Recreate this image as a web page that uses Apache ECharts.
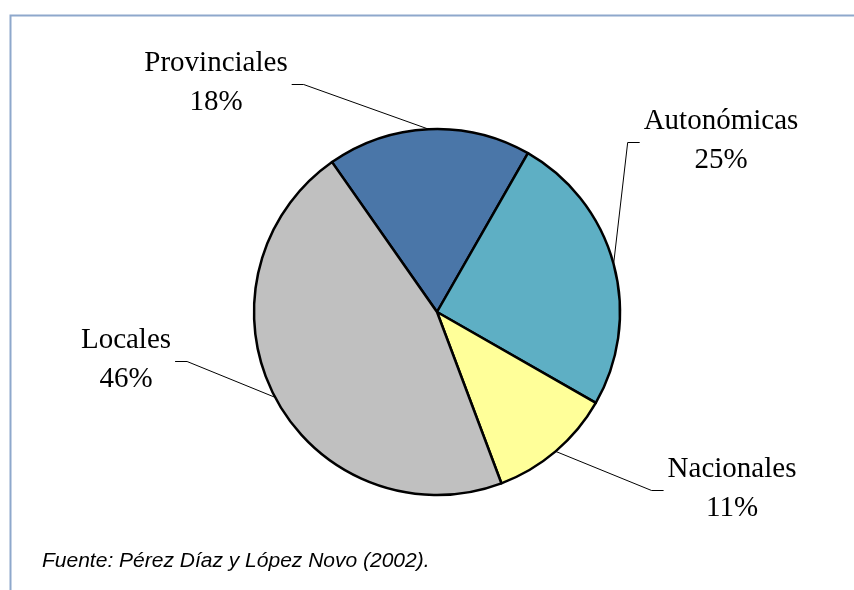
<!DOCTYPE html>
<html>
<head>
<meta charset="utf-8">
<script src="https://cdn.jsdelivr.net/npm/echarts@6/dist/echarts.min.js"></script>
<style>
    html, body { margin: 0; padding: 0; background: #fff; }
    #chart { width: 854px; height: 590px; }
</style>
</head>
<body>
<div id="chart"></div>
<script>
    // datos (porcentajes)
    var categories = ['Provinciales', 'Autonómicas', 'Nacionales', 'Locales'];
    var values = [18, 25, 11, 46];
    var colors = ['#4a76a8', '#5eafc4', '#ffff99', '#c0c0c0'];
    var source = 'Fuente: Pérez Díaz y López Novo (2002).';

    // centro de cada etiqueta en px
    var labelPos = [[216, 83], [721, 141], [732, 489], [126, 360]];

    var chart = echarts.init(document.getElementById('chart'));

    var seriesData = categories.map(function (name, i) {
        return {name: name, value: values[i], itemStyle: {color: colors[i]}};
    });

    var option = {
        animation: false,
        backgroundColor: '#fff',
        title: {
            text: source,
            left: 42,
            top: 551,
            padding: 0,
            textStyle: {
                fontFamily: 'Liberation Sans',
                fontStyle: 'italic',
                fontWeight: 'normal',
                fontSize: 21,
                color: '#000'
            }
        },
        graphic: [
            {
                type: 'polyline',
                shape: {points: [[10.5, 590], [10.5, 15.5], [854, 15.5]]},
                style: {stroke: '#8ea8cc', lineWidth: 2, fill: null},
                silent: true
            }
        ],
        series: [
            {
                type: 'pie',
                center: [437, 312],
                radius: 183,
                startAngle: 125,
                clockwise: true,
                data: seriesData,
                itemStyle: {borderColor: '#000', borderWidth: 2.5},
                emphasis: {disabled: true},
                label: {
                    show: true,
                    position: 'outside',
                    formatter: '{b}\n{c}%',
                    fontFamily: 'Liberation Serif',
                    fontSize: 29,
                    lineHeight: 39,
                    color: '#000',
                    align: 'center'
                },
                labelLine: {
                    show: true,
                    length: 20,
                    length2: 12,
                    lineStyle: {color: '#000', width: 1}
                },
                labelLayout: function (params) {
                    var p = labelPos[params.dataIndex];
                    var w = params.labelRect.width;
                    var start = params.labelLinePoints[0];
                    var left = p[0] < 437;
                    var endX = left ? p[0] + w / 2 + 4 : p[0] - w / 2 - 4;
                    var kneeX = left ? endX + 12 : endX - 12;
                    var y = p[1] + 1.5;
                    return {
                        x: p[0],
                        y: p[1],
                        align: 'center',
                        verticalAlign: 'middle',
                        labelLinePoints: [start, [kneeX, y], [endX, y]]
                    };
                }
            }
        ]
    };

    chart.setOption(option);
</script>
</body>
</html>
